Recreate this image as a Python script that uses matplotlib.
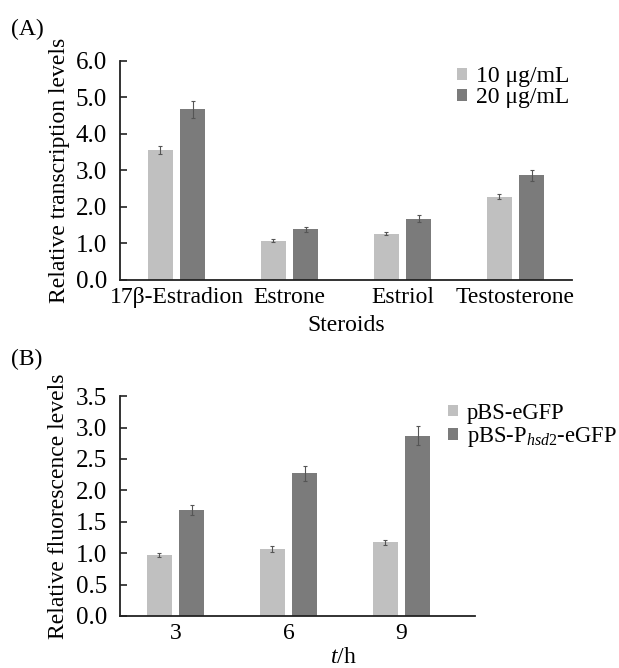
import matplotlib
matplotlib.use('Agg')
import matplotlib.pyplot as plt
import numpy as np

plt.rcParams['font.family'] = ['Liberation Serif', 'DejaVu Serif']
plt.rcParams['mathtext.fontset'] = 'custom'
plt.rcParams['mathtext.rm'] = 'Liberation Serif'
plt.rcParams['mathtext.it'] = 'Liberation Serif:italic'

# panel A data
steroids = ['17β-Estradion', 'Estrone', 'Estriol', 'Testosterone']
a_10 = [3.56, 1.07, 1.27, 2.28]
a_20 = [4.67, 1.38, 1.68, 2.86]
a_10_err = [0.10, 0.04, 0.04, 0.07]
a_20_err = [0.24, 0.07, 0.09, 0.14]

# panel B data
hours = ['3', '6', '9']
b_ctrl = [0.97, 1.07, 1.17]
b_hsd = [1.68, 2.27, 2.87]
b_ctrl_err = [0.03, 0.05, 0.04]
b_hsd_err = [0.08, 0.12, 0.15]

light = '#c0c0c0'
dark = '#7b7b7b'
fs = 17

fig = plt.figure(figsize=(6.19, 6.68), dpi=100)
axA = fig.add_axes([0.194, 0.581, 0.730, 0.328])
axB = fig.add_axes([0.194, 0.078, 0.573, 0.329])

w = 0.22
off = 0.143
ekw = dict(ecolor='#555555', elinewidth=0.8, capsize=1.5, capthick=0.8)
legkw = dict(loc='upper left', frameon=False, handlelength=0.42,
             handleheight=0.42, handletextpad=0.4, borderpad=0, borderaxespad=0)


def style(ax):
    for s in ['top', 'right']:
        ax.spines[s].set_visible(False)
    for s in ['left', 'bottom']:
        ax.spines[s].set_linewidth(1.3)
        ax.spines[s].set_color('#222222')
    ax.tick_params(axis='y', direction='in', length=5, width=1.2,
                   labelsize=18, color='#222222', pad=9.5)
    ax.tick_params(axis='x', length=0, labelsize=fs, pad=5)


x = np.arange(len(steroids))
axA.bar(x - off, a_10, w, yerr=a_10_err, color=light, label='10 μg/mL', error_kw=ekw)
axA.bar(x + off, a_20, w, yerr=a_20_err, color=dark, label='20 μg/mL', error_kw=ekw)
axA.set_xlim(-0.5, 3.5)
axA.set_ylim(0, 6)
axA.set_yticks(np.arange(0, 6.1, 1.0))
axA.set_yticklabels(['%.1f' % v for v in np.arange(0, 6.1, 1.0)])
axA.set_xticks(x)
axA.set_xticklabels(steroids)
axA.set_ylabel('Relative transcription levels', fontsize=fs, labelpad=4)
axA.set_xlabel('Steroids', fontsize=fs, labelpad=5)
style(axA)
axA.legend(bbox_to_anchor=(0.745, 0.975), labelspacing=0.0, fontsize=fs, **legkw)

xb = np.arange(len(hours))
axB.bar(xb - off, b_ctrl, w, yerr=b_ctrl_err, color=light, label='pBS-eGFP', error_kw=ekw)
axB.bar(xb + off, b_hsd, w, yerr=b_hsd_err, color=dark,
        label='pBS-P$_{\\mathit{hsd2}}$-eGFP', error_kw=ekw)
axB.set_xlim(-0.49, 2.65)
axB.set_ylim(0, 3.5)
axB.set_yticks(np.arange(0, 3.51, 0.5))
axB.set_yticklabels(['%.1f' % v for v in np.arange(0, 3.51, 0.5)])
axB.set_xticks(xb)
axB.set_xticklabels(hours)
axB.set_ylabel('Relative fluorescence levels', fontsize=fs, labelpad=5)
axB.set_xlabel('$\\mathit{t}$/h', fontsize=fs)
axB.xaxis.set_label_coords(0.63, -0.14)
style(axB)
axB.legend(bbox_to_anchor=(0.925, 0.97), labelspacing=0.05, fontsize=16.3, **legkw)

fig.text(0.018, 0.948, '(A)', fontsize=fs)
fig.text(0.018, 0.453, '(B)', fontsize=fs)

fig.savefig('out.png', dpi=100)
